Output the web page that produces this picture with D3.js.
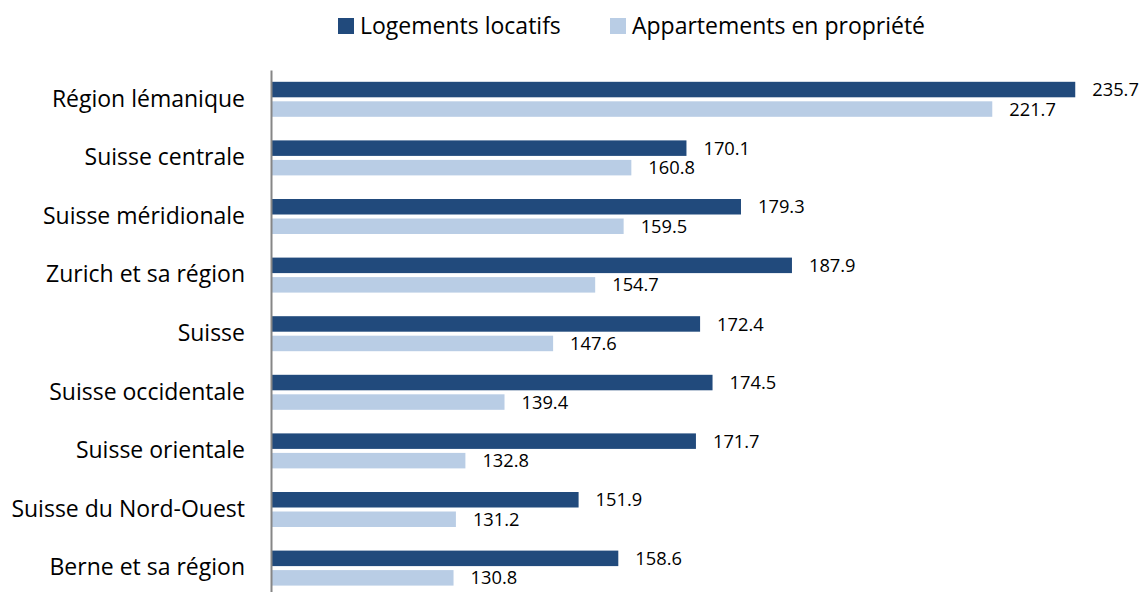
<!DOCTYPE html>
<html><head><meta charset="utf-8">
<script src="https://cdn.jsdelivr.net/npm/d3@7"></script>
<style>body{margin:0;background:#fff}svg{display:block}text{font-family:"Open Sans",Lato,sans-serif;fill:#000}</style>
</head><body><svg id="c" width="1143" height="592"></svg>
<script>
const categories = ["Région lémanique","Suisse centrale","Suisse méridionale","Zurich et sa région","Suisse","Suisse occidentale","Suisse orientale","Suisse du Nord-Ouest","Berne et sa région"];
const seriesNames = ["Logements locatifs","Appartements en propriété"];
const locatifs = [235.7,170.1,179.3,187.9,172.4,174.5,171.7,151.9,158.6];
const propriete = [221.7,160.8,159.5,154.7,147.6,139.4,132.8,131.2,130.8];
const colors = ["#214A7C","#B9CDE5"];

const svg = d3.select("#c");
const x = d3.scaleLinear().domain([100,250]).range([271,1160]);
const y = d3.scaleBand().domain(categories).range([70,597.4]).paddingInner(0).paddingOuter(0);
const barH = 15.5, gap = 4;
const groupH = barH*2+gap;
const series = [locatifs, propriete];

series.forEach((vals,si)=>{
  const g = svg.append("g");
  g.selectAll("rect").data(categories).enter().append("rect")
    .attr("x", x(100))
    .attr("y", (c)=> y(c) + (y.bandwidth()-groupH)/2 + si*(barH+gap))
    .attr("width", (c,i)=> x(vals[i]) - x(100))
    .attr("height", barH)
    .attr("fill", colors[si]);
  g.selectAll("text").data(categories).enter().append("text")
    .attr("x", (c,i)=> x(vals[i]) + 17)
    .attr("y", (c)=> y(c) + (y.bandwidth()-groupH)/2 + si*(barH+gap) + barH/2)
    .attr("dy","0.36em")
    .attr("font-size", 18.3)
    .text((c,i)=> d3.format(".1f")(vals[i]));
});

// y axis
const ax = svg.append("g").attr("transform",`translate(${x(100)},0)`)
  .call(d3.axisLeft(y).tickSize(0).tickPadding(26));
ax.select(".domain").attr("stroke","#868686").attr("stroke-width",2);
ax.selectAll("text").attr("font-size",23).attr("font-family","'Open Sans',Lato,sans-serif").attr("fill","#000");

// legend
const legendX = [338, 610];
const leg = svg.append("g");
seriesNames.forEach((n,i)=>{
  leg.append("rect").attr("x",legendX[i]).attr("y",18).attr("width",16).attr("height",16).attr("fill",colors[i]);
  leg.append("text").attr("x",legendX[i]+22).attr("y",34).attr("font-size",23).text(n);
});
</script></body></html>
